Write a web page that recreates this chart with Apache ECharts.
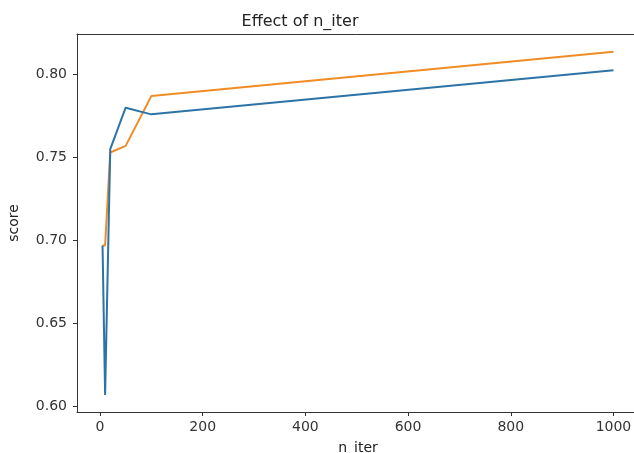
<!DOCTYPE html>
<html>
<head>
<meta charset="utf-8">
<script src="https://cdn.jsdelivr.net/npm/echarts@6/dist/echarts.min.js"></script>
<style>
  html, body { margin: 0; padding: 0; background: #fff; }
  #chart { width: 634px; height: 453px; }
</style>
</head>
<body>
<div id="chart"></div>
<script>
// Number of iterations tried
const nIter = [5, 10, 20, 50, 100, 1000];
// Scores for the two runs
const scoreBlue = [0.697, 0.607, 0.755, 0.780, 0.776, 0.8025];
const scoreOrange = [0.697, 0.697, 0.753, 0.757, 0.787, 0.8137];
// Tick values
const xTicks = [0, 200, 400, 600, 800, 1000];
const yTicks = [0.60, 0.65, 0.70, 0.75, 0.80];

const FONT = 'DejaVu Sans';
const X_MIN = -44.75, X_MAX = 1049.75;
const toPairs = (xs, ys) => xs.map((x, i) => [x, ys[i]]);

const chart = echarts.init(document.getElementById('chart'), null, { renderer: 'canvas' });
chart.setOption({
  animation: false,
  backgroundColor: '#ffffff',
  title: {
    text: 'Effect of n_iter',
    left: 295,
    textAlign: 'center',
    top: 9,
    textStyle: { fontFamily: FONT, fontSize: 16, fontWeight: 'normal', color: '#222' }
  },
  grid: {
    left: 77, top: 34, right: -5, bottom: 41,
    containLabel: false,
    outerBoundsMode: 'none',
    show: false
  },
  xAxis: [
    {
      type: 'value',
      min: X_MIN, max: X_MAX,
      name: 'n_iter',
      nameLocation: 'middle',
      nameGap: 29,
      nameTextStyle: { fontFamily: FONT, fontSize: 14, color: '#222' },
      axisLine: { show: true, onZero: false, lineStyle: { color: '#333', width: 1 } },
      axisTick: { show: true, customValues: xTicks, length: 4, lineStyle: { color: '#333' } },
      axisLabel: {
        customValues: xTicks, margin: 8,
        fontFamily: FONT, fontSize: 14, color: '#333',
        formatter: v => String(v)
      },
      splitLine: { show: false }
    },
    {
      // top spine
      type: 'value',
      position: 'top',
      min: X_MIN, max: X_MAX,
      axisLine: { show: true, onZero: false, lineStyle: { color: '#333', width: 1 } },
      axisTick: { show: false },
      axisLabel: { show: false },
      splitLine: { show: false }
    }
  ],
  yAxis: {
    type: 'value',
    min: 0.5967, max: 0.8244,
    name: 'score',
    nameLocation: 'middle',
    nameRotate: 90,
    nameGap: 56,
    nameTextStyle: { fontFamily: FONT, fontSize: 14, color: '#222' },
    axisLine: { show: true, onZero: false, lineStyle: { color: '#333', width: 1 } },
    axisTick: { show: true, customValues: yTicks, length: 4, lineStyle: { color: '#333' } },
    axisLabel: {
      customValues: yTicks, margin: 10,
      fontFamily: FONT, fontSize: 14, color: '#333',
      formatter: v => v.toFixed(2)
    },
    splitLine: { show: false }
  },
  series: [
    {
      type: 'line',
      data: toPairs(nIter, scoreBlue),
      showSymbol: false,
      lineStyle: { color: '#2c74a8', width: 2 },
      itemStyle: { color: '#2c74a8' },
      z: 3
    },
    {
      type: 'line',
      data: toPairs(nIter, scoreOrange),
      showSymbol: false,
      lineStyle: { color: '#f08c24', width: 2 },
      itemStyle: { color: '#f08c24' },
      z: 2
    }
  ]
});
</script>
</body>
</html>
